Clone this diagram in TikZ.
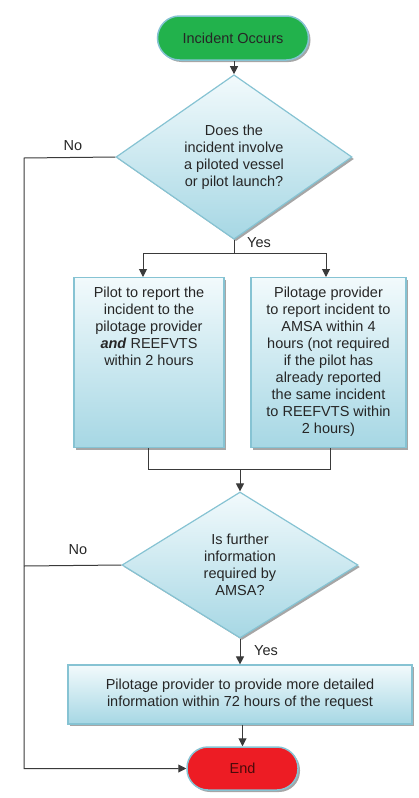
\documentclass[tikz,border=0pt]{standalone}
\usepackage{fontspec}
\setmainfont{Liberation Sans}
\usetikzlibrary{shapes.geometric,arrows.meta,shadows}
\definecolor{bordc}{HTML}{86C3D3}
\definecolor{boxtop}{HTML}{F2FAFC}
\definecolor{boxbot}{HTML}{A6D7E4}
\definecolor{startg}{HTML}{22B24C}
\definecolor{endr}{HTML}{ED1C24}
\definecolor{endtxt}{HTML}{4A0A0A}
\definecolor{linec}{HTML}{3A3A3A}
\tikzset{
  every node/.style={font=\fontsize{14.5}{17}\selectfont, text=black!85},
  myshadow/.style={drop shadow={shadow xshift=2pt, shadow yshift=-2pt, fill=black!35, opacity=1}},
  procbox/.style={draw=bordc, line width=1.2pt, top color=boxtop, bottom color=boxbot, inner sep=0pt, myshadow},
  decbox/.style={diamond, draw=bordc, line width=1.2pt, top color=boxtop, bottom color=boxbot, inner sep=0pt, align=center, myshadow},
  termbox/.style={draw=bordc, line width=1.5pt, inner sep=0pt, myshadow},
  conn/.style={draw=linec, line width=1pt},
  arr/.style={conn, -{Triangle[width=8pt,length=8pt]}},
  lbl/.style={inner sep=0pt}
}
\begin{document}
\begin{tikzpicture}[x=1pt,y=-1pt]
\useasboundingbox (0,0) rectangle (419,798);
% nodes
\node[termbox, fill=startg, rounded corners=22pt, minimum width=151pt, minimum height=44pt] (start) at (233,38) {Incident Occurs};
\node[decbox, minimum width=236pt, minimum height=150pt] (d1) at (234,157) {Does the\\incident involve\\a piloted vessel\\or pilot launch?};
\node[procbox, minimum width=150pt, minimum height=170pt, anchor=north] (b1) at (149,277)
  {\parbox[c][170pt][t]{146pt}{\centering\vspace*{9pt}Pilot to report the\\incident to the\\pilotage provider\\\textbf{\textit{and}} REEFVTS\\within 2 hours}};
\node[procbox, minimum width=155pt, minimum height=170pt, anchor=north] (b2) at (328.5,277)
  {\parbox[c][170pt][t]{151pt}{\centering\vspace*{9pt}Pilotage provider\\to report incident to\\AMSA within 4\\hours (not required\\if the pilot has\\already reported\\the same incident\\to REEFVTS within\\2 hours)}};
\node[decbox, minimum width=236pt, minimum height=146pt] (d2) at (240,565) {Is further\\information\\required by\\AMSA?};
\node[procbox, minimum width=344pt, minimum height=59pt, align=center] (b3) at (240,694.5) {Pilotage provider to provide more detailed\\information within 72 hours of the request};
\node[termbox, fill=endr, rounded corners=21pt, minimum width=111pt, minimum height=43pt, text=endtxt] (end) at (242.5,768.5) {End};
% labels
\node[lbl] (no1) at (73,146) {No};
\node[lbl] (yes1) at (259,243) {Yes};
\node[lbl] (no2) at (78,550) {No};
\node[lbl] (yes2) at (266,651) {Yes};
% coordinates
\coordinate (j1) at (234,253);
\coordinate (jl) at (143,253);
\coordinate (jr) at (326,253);
\coordinate (kl) at (148,469);
\coordinate (kr) at (330,469);
\coordinate (k1) at (240,469);
\coordinate (c1) at (24,158);
\coordinate (c3) at (24,566);
% connectors
\draw[arr] (start.south -| d1.north) -- (d1.north);
\draw[conn] (d1.south) -- (j1);
\draw[conn] (jl) -- (jr);
\draw[arr] (jl) -- (jl |- b1.north);
\draw[arr] (jr) -- (jr |- b2.north);
\draw[conn] (kl |- b1.south) -- (kl) -- (kr) -- (kr |- b2.south);
\draw[arr] (k1) -- (d2.north);
\draw[arr] (d2.south) -- (b3.north);
\draw[arr] (b3.south -| end.north) -- (end.north);
\draw[arr] (d1.west) -- (c1) |- (end.west);
\draw[conn] (d2.west) -- (c3);
\end{tikzpicture}
\end{document}
